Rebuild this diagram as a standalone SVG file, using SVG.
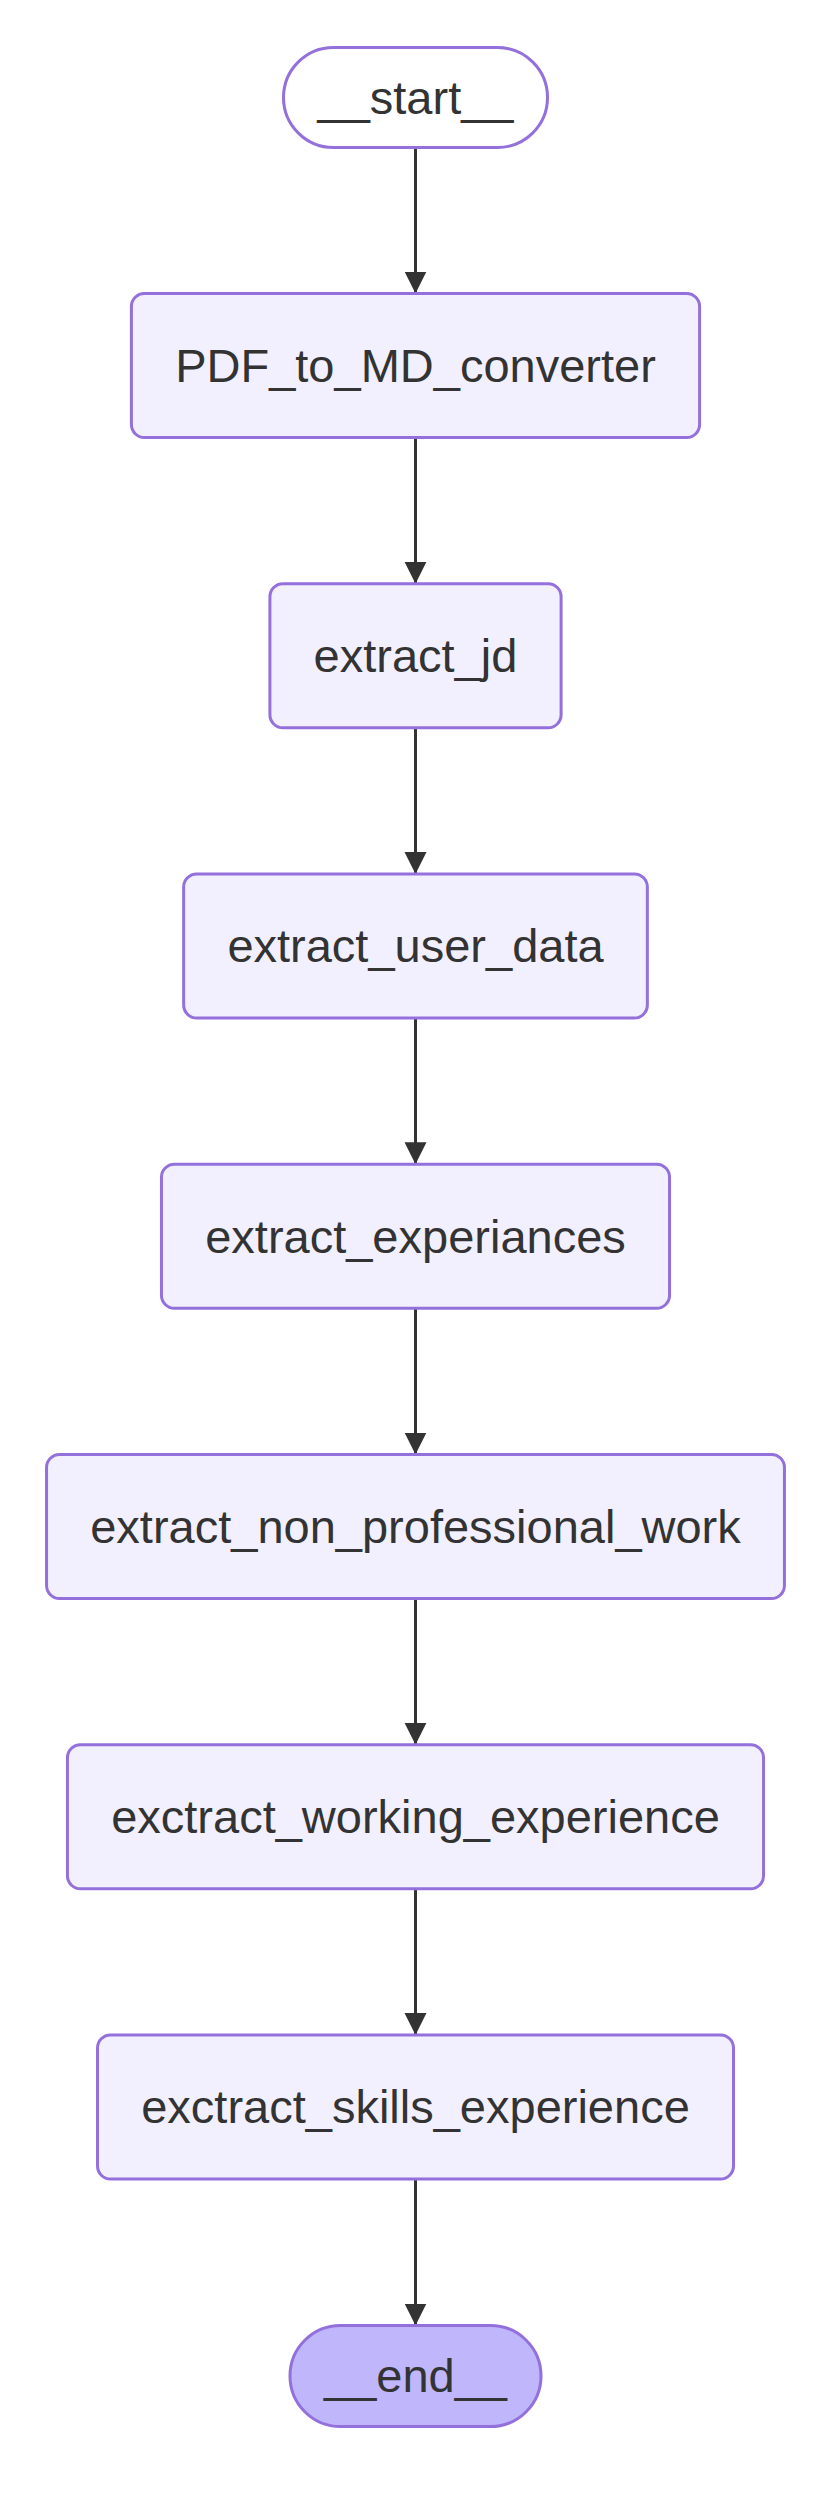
<svg xmlns="http://www.w3.org/2000/svg" width="831" height="2514" viewBox="0 0 831 2514">
<style>
.node rect{fill:#f2f0ff;stroke:#9370db;stroke-width:3}
.first rect{fill:#ffffff;fill-opacity:0}
.last rect{fill:#bfb6fc}
.node text{font-family:"Liberation Sans",Arial,Helvetica,sans-serif;font-size:47px;fill:#333333;text-anchor:middle}
.edges path{stroke:#333333;stroke-width:3;fill:none}
</style>
<defs>
<marker id="arrow" viewBox="0 0 10 10" refX="10" refY="5" markerWidth="22" markerHeight="23" markerUnits="userSpaceOnUse" orient="auto">
<path d="M0,0 L10,5 L0,10 z" fill="#333333" stroke="none"/>
</marker>
</defs>
<rect width="831" height="2514" fill="#ffffff"/>
<g class="edges">
<path d="M415.5,147.5 L415.5,293.5" marker-end="url(#arrow)"/>
<path d="M415.5,437.5 L415.5,583.75" marker-end="url(#arrow)"/>
<path d="M415.5,727.75 L415.5,874" marker-end="url(#arrow)"/>
<path d="M415.5,1018 L415.5,1164.25" marker-end="url(#arrow)"/>
<path d="M415.5,1308.25 L415.5,1454.5" marker-end="url(#arrow)"/>
<path d="M415.5,1598.5 L415.5,1744.75" marker-end="url(#arrow)"/>
<path d="M415.5,1888.75 L415.5,2035" marker-end="url(#arrow)"/>
<path d="M415.5,2179 L415.5,2325.5" marker-end="url(#arrow)"/>
</g>
<g id="start" class="node first">
<rect x="283.5" y="47.5" width="264" height="100" rx="50" ry="50"/>
<text x="415.5" y="113.8">__start__</text>
</g>
<g id="PDF_to_MD_converter" class="node">
<rect x="131.4" y="293.5" width="568.2" height="144" rx="13" ry="13"/>
<text x="415.5" y="381.8">PDF_to_MD_converter</text>
</g>
<g id="extract_jd" class="node">
<rect x="269.9" y="583.75" width="291.2" height="144" rx="13" ry="13"/>
<text x="415.5" y="672">extract_jd</text>
</g>
<g id="extract_user_data" class="node">
<rect x="183.65" y="874" width="463.7" height="144" rx="13" ry="13"/>
<text x="415.5" y="962.3">extract_user_data</text>
</g>
<g id="extract_experiances" class="node">
<rect x="161.45" y="1164.25" width="508.1" height="144" rx="13" ry="13"/>
<text x="415.5" y="1252.5">extract_experiances</text>
</g>
<g id="extract_non_professional_work" class="node">
<rect x="46.55" y="1454.5" width="737.9" height="144" rx="13" ry="13"/>
<text x="415.5" y="1542.8">extract_non_professional_work</text>
</g>
<g id="exctract_working_experience" class="node">
<rect x="67.45" y="1744.75" width="696.1" height="144" rx="13" ry="13"/>
<text x="415.5" y="1833">exctract_working_experience</text>
</g>
<g id="exctract_skills_experience" class="node">
<rect x="97.5" y="2035" width="636" height="144" rx="13" ry="13"/>
<text x="415.5" y="2123.3">exctract_skills_experience</text>
</g>
<g id="end" class="node last">
<rect x="290" y="2325.5" width="251" height="101" rx="50.5" ry="50.5"/>
<text x="415.5" y="2392.3">__end__</text>
</g>
</svg>
